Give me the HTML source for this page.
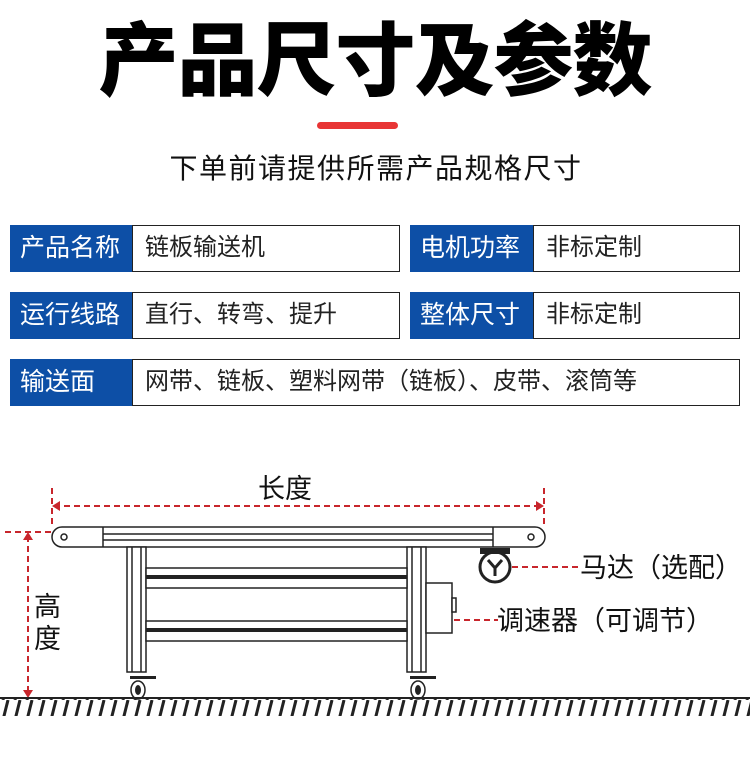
<!DOCTYPE html>
<html><head><meta charset="utf-8"><style>
*{margin:0;padding:0;box-sizing:border-box}
body{width:750px;height:759px;background:#fff;position:relative;overflow:hidden;font-family:"Liberation Sans","Noto Sans CJK SC",sans-serif;color:#222}
.a{position:absolute}
.title{left:0;width:750px;top:16px;text-align:center;font-size:80px;font-weight:900;line-height:92px;color:#000;letter-spacing:-1px}
.bar{left:317px;top:122px;width:81px;height:7px;border-radius:4px;background:#e83535}
.sub{left:0;width:750px;top:151px;text-align:center;font-size:28px;line-height:36px;letter-spacing:1.5px;padding-left:2px;color:#111}
.lab{background:#0d4fa6;color:#fff;font-size:25px;line-height:47px;padding-left:10px;height:47px}
.val{border:1.5px solid #222;font-size:24px;line-height:44px;padding-left:12px;height:47px;color:#222}
</style></head><body>
<div class="a title">产品尺寸及参数</div>
<div class="a bar"></div>
<div class="a sub">下单前请提供所需产品规格尺寸</div>

<div class="a lab" style="left:10px;top:225px;width:122px">产品名称</div>
<div class="a val" style="left:132px;top:225px;width:268px">链板输送机</div>
<div class="a lab" style="left:410px;top:225px;width:123px">电机功率</div>
<div class="a val" style="left:533px;top:225px;width:207px">非标定制</div>
<div class="a lab" style="left:10px;top:292px;width:122px">运行线路</div>
<div class="a val" style="left:132px;top:292px;width:268px">直行、转弯、提升</div>
<div class="a lab" style="left:410px;top:292px;width:123px">整体尺寸</div>
<div class="a val" style="left:533px;top:292px;width:207px">非标定制</div>
<div class="a lab" style="left:10px;top:359px;width:122px">输送面</div>
<div class="a val" style="left:132px;top:359px;width:608px">网带、链板、塑料网带（链板）、皮带、滚筒等</div>

<svg class="a" style="left:0;top:0" width="750" height="759">
<defs><pattern id="h" width="12" height="20" patternUnits="userSpaceOnUse"><line x1="8" y1="0" x2="3" y2="20" stroke="#222" stroke-width="3"/></pattern></defs>
<g stroke="#c8262c" stroke-width="2" stroke-dasharray="6,4" fill="none">
<line x1="52" y1="488" x2="52" y2="528"/><line x1="544" y1="488" x2="544" y2="528"/>
<line x1="54" y1="506" x2="542" y2="506"/>
<line x1="5" y1="532" x2="52" y2="532"/><line x1="28" y1="536" x2="28" y2="696"/>
<line x1="8" y1="698" x2="52" y2="698"/>
<line x1="512" y1="567" x2="580" y2="567"/><line x1="454" y1="620" x2="498" y2="620"/>
</g>
<g fill="#c8262c"><polygon points="52,506 60,501 60,511"/><polygon points="544,506 536,501 536,511"/><polygon points="28,532 23,540 33,540"/><polygon points="28,698 23,690 33,690"/></g>
<g stroke="#222" stroke-width="1.5" fill="#fff">
<rect x="52" y="527" width="493" height="20" rx="10"/>
<line x1="103" y1="527" x2="103" y2="547"/><line x1="493" y1="527" x2="493" y2="547"/>
<line x1="103" y1="534" x2="493" y2="534"/><line x1="103" y1="540" x2="493" y2="540"/>
<circle cx="64" cy="537" r="3"/><circle cx="531" cy="537" r="3"/>
<rect x="127" y="547" width="19" height="125"/><rect x="407" y="547" width="19" height="125"/>
<line x1="132" y1="547" x2="132" y2="672"/><line x1="141" y1="547" x2="141" y2="672"/>
<line x1="412" y1="547" x2="412" y2="672"/><line x1="421" y1="547" x2="421" y2="672"/>
<rect x="146" y="568" width="261" height="20"/><rect x="146" y="621" width="261" height="20"/>
<rect x="426" y="583" width="26" height="50"/><rect x="452" y="598" width="4" height="14"/>
<ellipse cx="138" cy="690" rx="7" ry="9"/><ellipse cx="418" cy="690" rx="7" ry="9"/>
<ellipse cx="495" cy="567" rx="15" ry="15" stroke-width="3"/>
</g>
<g fill="#222"><rect x="146" y="575" width="261" height="4"/><rect x="146" y="628" width="261" height="4"/>
<rect x="130" y="676" width="26" height="3"/><rect x="410" y="676" width="26" height="3"/>
<ellipse cx="138" cy="690" rx="3" ry="5"/><ellipse cx="418" cy="690" rx="3" ry="5"/>
<rect x="480" y="548" width="30" height="6"/>
<path d="M488 560 L495 568 L502 560 M495 568 L495 576" stroke="#222" stroke-width="3" fill="none"/></g>
<line x1="0" y1="698" x2="750" y2="698" stroke="#222" stroke-width="2"/>
<rect x="0" y="699" width="750" height="17" fill="url(#h)"/>
<text x="258" y="498" font-size="27" fill="#111" font-family="Liberation Sans,Noto Sans CJK SC,sans-serif">长度</text>
<text x="34" y="616" font-size="27" fill="#111" font-family="Liberation Sans,Noto Sans CJK SC,sans-serif">高</text>
<text x="34" y="648" font-size="27" fill="#111" font-family="Liberation Sans,Noto Sans CJK SC,sans-serif">度</text>
<text x="580" y="577" font-size="27" fill="#111" font-family="Liberation Sans,Noto Sans CJK SC,sans-serif">马达（选配）</text>
<text x="497" y="630" font-size="27" fill="#111" font-family="Liberation Sans,Noto Sans CJK SC,sans-serif">调速器（可调节）</text>
</svg>
</body></html>
